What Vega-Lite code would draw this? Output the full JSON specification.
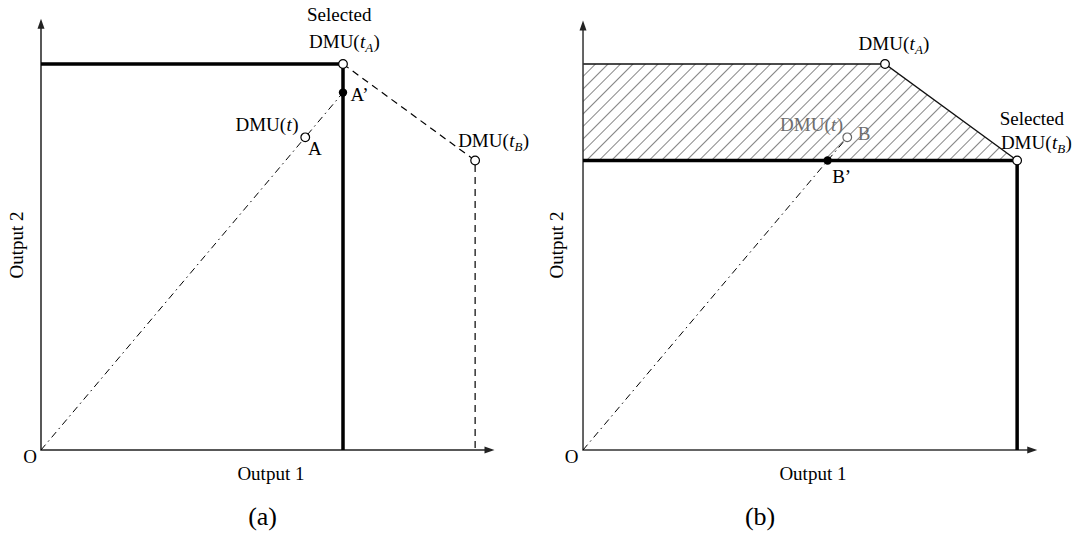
{
  "$schema": "https://vega.github.io/schema/vega-lite/v6.json",
  "background": "white",
  "padding": 0,
  "spacing": 0,
  "bounds": "flush",
  "config": {
    "view": {"stroke": null},
    "text": {"font": "Liberation Serif", "fontSize": 19, "color": "black"}
  },
  "datasets": {
    "axes": [
      {"panel": "a", "ord": 1, "x": 0, "y": 11.04},
      {"panel": "a", "ord": 2, "x": 0, "y": 0},
      {"panel": "a", "ord": 3, "x": 11.88, "y": 0},
      {"panel": "b", "ord": 1, "x": 0, "y": 11.0},
      {"panel": "b", "ord": 2, "x": 0, "y": 0},
      {"panel": "b", "ord": 3, "x": 11.9, "y": 0}
    ],
    "arrows": [
      {"panel": "a", "dir": "up", "x": 0, "y": 11.04},
      {"panel": "a", "dir": "right", "x": 11.88, "y": 0},
      {"panel": "b", "dir": "up", "x": 0, "y": 11.0},
      {"panel": "b", "dir": "right", "x": 11.9, "y": 0}
    ],
    "frontier": [
      {"panel": "a", "ord": 1, "x": 0, "y": 10},
      {"panel": "a", "ord": 2, "x": 8, "y": 10},
      {"panel": "a", "ord": 3, "x": 8, "y": 0},
      {"panel": "b", "ord": 1, "x": 0, "y": 7.5},
      {"panel": "b", "ord": 2, "x": 11.5, "y": 7.5},
      {"panel": "b", "ord": 3, "x": 11.5, "y": 0}
    ],
    "links": [
      {"panel": "a", "ord": 1, "x": 8, "y": 10},
      {"panel": "a", "ord": 2, "x": 11.5, "y": 7.5},
      {"panel": "a", "ord": 3, "x": 11.5, "y": 0}
    ],
    "rays": [
      {"panel": "a", "ord": 1, "x": 0, "y": 0},
      {"panel": "a", "ord": 2, "x": 8, "y": 9.26},
      {"panel": "b", "ord": 1, "x": 0, "y": 0},
      {"panel": "b", "ord": 2, "x": 7, "y": 8.1}
    ],
    "hull": [
      {"panel": "b", "ord": 1, "x": 0, "y": 10},
      {"panel": "b", "ord": 2, "x": 8, "y": 10},
      {"panel": "b", "ord": 3, "x": 11.5, "y": 7.5}
    ],
    "region": [
      {"panel": "b", "x": 0, "y": 10, "y2": 7.5},
      {"panel": "b", "x": 8, "y": 10, "y2": 7.5},
      {"panel": "b", "x": 11.5, "y": 7.5, "y2": 7.5}
    ],
    "dmus": [
      {"panel": "a", "name": "DMU(tA)", "state": "observed", "x": 8, "y": 10},
      {"panel": "a", "name": "DMU(tB)", "state": "observed", "x": 11.5, "y": 7.5},
      {"panel": "a", "name": "A", "state": "evaluated", "x": 7, "y": 8.1},
      {"panel": "a", "name": "A’", "state": "projection", "x": 8, "y": 9.26},
      {"panel": "b", "name": "DMU(tA)", "state": "observed", "x": 8, "y": 10},
      {"panel": "b", "name": "DMU(tB)", "state": "observed", "x": 11.5, "y": 7.5},
      {"panel": "b", "name": "B", "state": "evaluated", "x": 7, "y": 8.1},
      {"panel": "b", "name": "B’", "state": "projection", "x": 6.48, "y": 7.5}
    ],
    "dmu_labels": [
      {"panel": "a", "sub": "A", "x": 7.1, "y": 10.415},
      {"panel": "a", "sub": "B", "x": 11.05, "y": 7.85},
      {"panel": "a", "sub": "", "x": 5.15, "y": 8.264},
      {"panel": "b", "sub": "A", "x": 7.3, "y": 10.36},
      {"panel": "b", "sub": "B", "x": 11.07, "y": 7.8},
      {"panel": "b", "sub": "", "x": 5.22, "y": 8.264}
    ],
    "texts": [
      {"panel": "a", "role": "note", "text": "Selected", "x": 7.9, "y": 11.11},
      {"panel": "a", "role": "point", "text": "A’", "x": 8.2, "y": 9.04},
      {"panel": "a", "role": "point", "text": "A", "x": 7.07, "y": 7.64},
      {"panel": "a", "role": "origin", "text": "O", "x": -0.29, "y": -0.337},
      {"panel": "a", "role": "xtitle", "text": "Output 1", "x": 6.09, "y": -0.777},
      {"panel": "a", "role": "ytitle", "text": "Output 2", "x": -0.636, "y": 5.31},
      {"panel": "a", "role": "caption", "text": "(a)", "x": 5.87, "y": -1.943},
      {"panel": "b", "role": "note", "text": "Selected", "x": 11.89, "y": 8.42},
      {"panel": "b", "role": "evaluated", "text": "B", "x": 7.28, "y": 8.03},
      {"panel": "b", "role": "point", "text": "B’", "x": 6.6, "y": 6.92},
      {"panel": "b", "role": "origin", "text": "O", "x": -0.3, "y": -0.337},
      {"panel": "b", "role": "xtitle", "text": "Output 1", "x": 6.09, "y": -0.777},
      {"panel": "b", "role": "ytitle", "text": "Output 2", "x": -0.689, "y": 5.31},
      {"panel": "b", "role": "caption", "text": "(b)", "x": 4.69, "y": -1.943}
    ]
  },
  "hconcat": [
    {
      "width": 537,
      "height": 536,
      "encoding": {
        "x": {"field": "x", "type": "quantitative", "scale": {"domain": [-1.086, 13.139], "nice": false, "zero": false}, "axis": null},
        "y": {"field": "y", "type": "quantitative", "scale": {"domain": [-2.228, 11.658], "nice": false, "zero": false}, "axis": null}
      },
      "layer": [
        {"data": {"name": "axes"}, "transform": [{"filter": "datum.panel === 'a'"}],
         "mark": {"type": "line", "stroke": "#222", "strokeWidth": 1.5},
         "encoding": {"order": {"field": "ord", "type": "quantitative"}}},
        {"data": {"name": "arrows"}, "transform": [{"filter": "datum.panel === 'a'"}],
         "mark": {"type": "point", "filled": true, "fill": "#222", "size": 100, "opacity": 1},
         "encoding": {"shape": {"field": "dir", "type": "nominal", "legend": null,
           "scale": {"domain": ["up", "right"], "range": ["M0,-1L0.7,1L-0.7,1Z", "M1,0L-1,0.7L-1,-0.7Z"]}}}},
        {"data": {"name": "rays"}, "transform": [{"filter": "datum.panel === 'a'"}],
         "mark": {"type": "line", "stroke": "black", "strokeWidth": 1, "strokeDash": [7, 4, 1.5, 4]},
         "encoding": {"order": {"field": "ord", "type": "quantitative"}}},
        {"data": {"name": "links"}, "transform": [{"filter": "datum.panel === 'a'"}],
         "mark": {"type": "line", "stroke": "black", "strokeWidth": 1.2, "strokeDash": [7, 5]},
         "encoding": {"order": {"field": "ord", "type": "quantitative"}}},
        {"data": {"name": "frontier"}, "transform": [{"filter": "datum.panel === 'a'"}],
         "mark": {"type": "line", "stroke": "black", "strokeWidth": 3.5},
         "encoding": {"order": {"field": "ord", "type": "quantitative"}}},
        {"data": {"name": "dmus"}, "transform": [{"filter": "datum.panel === 'a' && datum.state !== 'projection'"}],
         "mark": {"type": "point", "shape": "circle", "size": 75, "filled": true, "fill": "white", "stroke": "black", "strokeWidth": 1.2, "opacity": 1}},
        {"data": {"name": "dmus"}, "transform": [{"filter": "datum.panel === 'a' && datum.state === 'projection'"}],
         "mark": {"type": "point", "shape": "circle", "size": 70, "filled": true, "fill": "black", "opacity": 1}},
        {"data": {"name": "dmu_labels"}, "transform": [{"filter": "datum.panel === 'a'"}],
         "mark": {"type": "text", "text": "DMU(", "align": "left", "baseline": "alphabetic"}},
        {"data": {"name": "dmu_labels"}, "transform": [{"filter": "datum.panel === 'a'"}],
         "mark": {"type": "text", "text": "t", "fontStyle": "italic", "align": "left", "baseline": "alphabetic", "dx": 51}},
        {"data": {"name": "dmu_labels"}, "transform": [{"filter": "datum.panel === 'a' && datum.sub !== ''"}],
         "mark": {"type": "text", "fontStyle": "italic", "fontSize": 13, "align": "left", "baseline": "alphabetic", "dx": 56.3, "dy": 4},
         "encoding": {"text": {"field": "sub"}}},
        {"data": {"name": "dmu_labels"}, "transform": [{"filter": "datum.panel === 'a' && datum.sub !== ''"}],
         "mark": {"type": "text", "text": ")", "align": "left", "baseline": "alphabetic", "dx": 64.5}},
        {"data": {"name": "dmu_labels"}, "transform": [{"filter": "datum.panel === 'a' && datum.sub === ''"}],
         "mark": {"type": "text", "text": ")", "align": "left", "baseline": "alphabetic", "dx": 56.8}},
        {"data": {"name": "texts"}, "transform": [{"filter": "datum.panel === 'a' && (datum.role === 'note' || datum.role === 'origin' || datum.role === 'xtitle')"}],
         "mark": {"type": "text", "align": "center", "baseline": "alphabetic"},
         "encoding": {"text": {"field": "text"}}},
        {"data": {"name": "texts"}, "transform": [{"filter": "datum.panel === 'a' && datum.role === 'point'"}],
         "mark": {"type": "text", "align": "left", "baseline": "alphabetic"},
         "encoding": {"text": {"field": "text"}}},
        {"data": {"name": "texts"}, "transform": [{"filter": "datum.panel === 'a' && datum.role === 'ytitle'"}],
         "mark": {"type": "text", "align": "center", "baseline": "middle", "angle": 270},
         "encoding": {"text": {"field": "text"}}},
        {"data": {"name": "texts"}, "transform": [{"filter": "datum.panel === 'a' && datum.role === 'caption'"}],
         "mark": {"type": "text", "align": "center", "baseline": "alphabetic", "fontSize": 26},
         "encoding": {"text": {"field": "text"}}}
      ]
    },
    {
      "width": 538,
      "height": 536,
      "encoding": {
        "x": {"field": "x", "type": "quantitative", "scale": {"domain": [-1.219, 13.033], "nice": false, "zero": false}, "axis": null},
        "y": {"field": "y", "type": "quantitative", "scale": {"domain": [-2.228, 11.658], "nice": false, "zero": false}, "axis": null}
      },
      "layer": [
        {"data": {"name": "region"},
         "mark": {"type": "area", "opacity": 1, "stroke": null,
           "fill": {"gradient": "linear", "x1": 0, "y1": 0, "x2": 1.2073, "y2": 0.2684, "stops": [
             {"offset": 0, "color": "#fff"},
             {"offset": 0.0200, "color": "#fff"}, {"offset": 0.0227, "color": "#8a8a8a"}, {"offset": 0.0254, "color": "#fff"},
             {"offset": 0.0428, "color": "#fff"}, {"offset": 0.0455, "color": "#8a8a8a"}, {"offset": 0.0482, "color": "#fff"},
             {"offset": 0.0655, "color": "#fff"}, {"offset": 0.0682, "color": "#8a8a8a"}, {"offset": 0.0709, "color": "#fff"},
             {"offset": 0.0882, "color": "#fff"}, {"offset": 0.0909, "color": "#8a8a8a"}, {"offset": 0.0936, "color": "#fff"},
             {"offset": 0.1109, "color": "#fff"}, {"offset": 0.1136, "color": "#8a8a8a"}, {"offset": 0.1163, "color": "#fff"},
             {"offset": 0.1337, "color": "#fff"}, {"offset": 0.1364, "color": "#8a8a8a"}, {"offset": 0.1391, "color": "#fff"},
             {"offset": 0.1564, "color": "#fff"}, {"offset": 0.1591, "color": "#8a8a8a"}, {"offset": 0.1618, "color": "#fff"},
             {"offset": 0.1791, "color": "#fff"}, {"offset": 0.1818, "color": "#8a8a8a"}, {"offset": 0.1845, "color": "#fff"},
             {"offset": 0.2018, "color": "#fff"}, {"offset": 0.2045, "color": "#8a8a8a"}, {"offset": 0.2072, "color": "#fff"},
             {"offset": 0.2246, "color": "#fff"}, {"offset": 0.2273, "color": "#8a8a8a"}, {"offset": 0.2300, "color": "#fff"},
             {"offset": 0.2473, "color": "#fff"}, {"offset": 0.2500, "color": "#8a8a8a"}, {"offset": 0.2527, "color": "#fff"},
             {"offset": 0.2700, "color": "#fff"}, {"offset": 0.2727, "color": "#8a8a8a"}, {"offset": 0.2754, "color": "#fff"},
             {"offset": 0.2928, "color": "#fff"}, {"offset": 0.2955, "color": "#8a8a8a"}, {"offset": 0.2982, "color": "#fff"},
             {"offset": 0.3155, "color": "#fff"}, {"offset": 0.3182, "color": "#8a8a8a"}, {"offset": 0.3209, "color": "#fff"},
             {"offset": 0.3382, "color": "#fff"}, {"offset": 0.3409, "color": "#8a8a8a"}, {"offset": 0.3436, "color": "#fff"},
             {"offset": 0.3609, "color": "#fff"}, {"offset": 0.3636, "color": "#8a8a8a"}, {"offset": 0.3663, "color": "#fff"},
             {"offset": 0.3837, "color": "#fff"}, {"offset": 0.3864, "color": "#8a8a8a"}, {"offset": 0.3891, "color": "#fff"},
             {"offset": 0.4064, "color": "#fff"}, {"offset": 0.4091, "color": "#8a8a8a"}, {"offset": 0.4118, "color": "#fff"},
             {"offset": 0.4291, "color": "#fff"}, {"offset": 0.4318, "color": "#8a8a8a"}, {"offset": 0.4345, "color": "#fff"},
             {"offset": 0.4518, "color": "#fff"}, {"offset": 0.4545, "color": "#8a8a8a"}, {"offset": 0.4572, "color": "#fff"},
             {"offset": 0.4746, "color": "#fff"}, {"offset": 0.4773, "color": "#8a8a8a"}, {"offset": 0.4800, "color": "#fff"},
             {"offset": 0.4973, "color": "#fff"}, {"offset": 0.5000, "color": "#8a8a8a"}, {"offset": 0.5027, "color": "#fff"},
             {"offset": 0.5200, "color": "#fff"}, {"offset": 0.5227, "color": "#8a8a8a"}, {"offset": 0.5254, "color": "#fff"},
             {"offset": 0.5428, "color": "#fff"}, {"offset": 0.5455, "color": "#8a8a8a"}, {"offset": 0.5482, "color": "#fff"},
             {"offset": 0.5655, "color": "#fff"}, {"offset": 0.5682, "color": "#8a8a8a"}, {"offset": 0.5709, "color": "#fff"},
             {"offset": 0.5882, "color": "#fff"}, {"offset": 0.5909, "color": "#8a8a8a"}, {"offset": 0.5936, "color": "#fff"},
             {"offset": 0.6109, "color": "#fff"}, {"offset": 0.6136, "color": "#8a8a8a"}, {"offset": 0.6163, "color": "#fff"},
             {"offset": 0.6337, "color": "#fff"}, {"offset": 0.6364, "color": "#8a8a8a"}, {"offset": 0.6391, "color": "#fff"},
             {"offset": 0.6564, "color": "#fff"}, {"offset": 0.6591, "color": "#8a8a8a"}, {"offset": 0.6618, "color": "#fff"},
             {"offset": 0.6791, "color": "#fff"}, {"offset": 0.6818, "color": "#8a8a8a"}, {"offset": 0.6845, "color": "#fff"},
             {"offset": 0.7018, "color": "#fff"}, {"offset": 0.7045, "color": "#8a8a8a"}, {"offset": 0.7072, "color": "#fff"},
             {"offset": 0.7246, "color": "#fff"}, {"offset": 0.7273, "color": "#8a8a8a"}, {"offset": 0.7300, "color": "#fff"},
             {"offset": 0.7473, "color": "#fff"}, {"offset": 0.7500, "color": "#8a8a8a"}, {"offset": 0.7527, "color": "#fff"},
             {"offset": 0.7700, "color": "#fff"}, {"offset": 0.7727, "color": "#8a8a8a"}, {"offset": 0.7754, "color": "#fff"},
             {"offset": 0.7928, "color": "#fff"}, {"offset": 0.7955, "color": "#8a8a8a"}, {"offset": 0.7982, "color": "#fff"},
             {"offset": 0.8155, "color": "#fff"}, {"offset": 0.8182, "color": "#8a8a8a"}, {"offset": 0.8209, "color": "#fff"},
             {"offset": 0.8382, "color": "#fff"}, {"offset": 0.8409, "color": "#8a8a8a"}, {"offset": 0.8436, "color": "#fff"},
             {"offset": 0.8609, "color": "#fff"}, {"offset": 0.8636, "color": "#8a8a8a"}, {"offset": 0.8663, "color": "#fff"},
             {"offset": 0.8837, "color": "#fff"}, {"offset": 0.8864, "color": "#8a8a8a"}, {"offset": 0.8891, "color": "#fff"},
             {"offset": 0.9064, "color": "#fff"}, {"offset": 0.9091, "color": "#8a8a8a"}, {"offset": 0.9118, "color": "#fff"},
             {"offset": 0.9291, "color": "#fff"}, {"offset": 0.9318, "color": "#8a8a8a"}, {"offset": 0.9345, "color": "#fff"},
             {"offset": 0.9518, "color": "#fff"}, {"offset": 0.9545, "color": "#8a8a8a"}, {"offset": 0.9572, "color": "#fff"},
             {"offset": 0.9746, "color": "#fff"}, {"offset": 0.9773, "color": "#8a8a8a"}, {"offset": 0.9800, "color": "#fff"},
             {"offset": 1, "color": "#fff"}
           ]}},
         "encoding": {"y2": {"field": "y2"}}},
        {"data": {"name": "hull"}, "transform": [{"filter": "datum.panel === 'b'"}],
         "mark": {"type": "line", "stroke": "#111", "strokeWidth": 1.4},
         "encoding": {"order": {"field": "ord", "type": "quantitative"}}},
        {"data": {"name": "axes"}, "transform": [{"filter": "datum.panel === 'b'"}],
         "mark": {"type": "line", "stroke": "#333", "strokeWidth": 1.5},
         "encoding": {"order": {"field": "ord", "type": "quantitative"}}},
        {"data": {"name": "arrows"}, "transform": [{"filter": "datum.panel === 'b'"}],
         "mark": {"type": "point", "filled": true, "fill": "#222", "size": 100, "opacity": 1},
         "encoding": {"shape": {"field": "dir", "type": "nominal", "legend": null,
           "scale": {"domain": ["up", "right"], "range": ["M0,-1L0.7,1L-0.7,1Z", "M1,0L-1,0.7L-1,-0.7Z"]}}}},
        {"data": {"name": "rays"}, "transform": [{"filter": "datum.panel === 'b'"}],
         "mark": {"type": "line", "stroke": "black", "strokeWidth": 1, "strokeDash": [7, 4, 1.5, 4]},
         "encoding": {"order": {"field": "ord", "type": "quantitative"}}},
        {"data": {"name": "frontier"}, "transform": [{"filter": "datum.panel === 'b'"}],
         "mark": {"type": "line", "stroke": "black", "strokeWidth": 3.5},
         "encoding": {"order": {"field": "ord", "type": "quantitative"}}},
        {"data": {"name": "dmus"}, "transform": [{"filter": "datum.panel === 'b' && datum.state === 'observed'"}],
         "mark": {"type": "point", "shape": "circle", "size": 75, "filled": true, "fill": "white", "stroke": "black", "strokeWidth": 1.2, "opacity": 1}},
        {"data": {"name": "dmus"}, "transform": [{"filter": "datum.panel === 'b' && datum.state === 'evaluated'"}],
         "mark": {"type": "point", "shape": "circle", "size": 75, "filled": true, "fill": "white", "stroke": "#666", "strokeWidth": 1.2, "opacity": 1}},
        {"data": {"name": "dmus"}, "transform": [{"filter": "datum.panel === 'b' && datum.state === 'projection'"}],
         "mark": {"type": "point", "shape": "circle", "size": 70, "filled": true, "fill": "black", "opacity": 1}},
        {"data": {"name": "dmu_labels"}, "transform": [{"filter": "datum.panel === 'b' && datum.sub !== ''"}],
         "mark": {"type": "text", "text": "DMU(", "align": "left", "baseline": "alphabetic"}},
        {"data": {"name": "dmu_labels"}, "transform": [{"filter": "datum.panel === 'b' && datum.sub !== ''"}],
         "mark": {"type": "text", "text": "t", "fontStyle": "italic", "align": "left", "baseline": "alphabetic", "dx": 51}},
        {"data": {"name": "dmu_labels"}, "transform": [{"filter": "datum.panel === 'b' && datum.sub !== ''"}],
         "mark": {"type": "text", "fontStyle": "italic", "fontSize": 13, "align": "left", "baseline": "alphabetic", "dx": 56.3, "dy": 4},
         "encoding": {"text": {"field": "sub"}}},
        {"data": {"name": "dmu_labels"}, "transform": [{"filter": "datum.panel === 'b' && datum.sub !== ''"}],
         "mark": {"type": "text", "text": ")", "align": "left", "baseline": "alphabetic", "dx": 64.5}},
        {"data": {"name": "dmu_labels"}, "transform": [{"filter": "datum.panel === 'b' && datum.sub === ''"}],
         "mark": {"type": "text", "text": "DMU(", "align": "left", "baseline": "alphabetic", "color": "#6e6e6e"}},
        {"data": {"name": "dmu_labels"}, "transform": [{"filter": "datum.panel === 'b' && datum.sub === ''"}],
         "mark": {"type": "text", "text": "t", "fontStyle": "italic", "align": "left", "baseline": "alphabetic", "dx": 51, "color": "#6e6e6e"}},
        {"data": {"name": "dmu_labels"}, "transform": [{"filter": "datum.panel === 'b' && datum.sub === ''"}],
         "mark": {"type": "text", "text": ")", "align": "left", "baseline": "alphabetic", "dx": 56.8, "color": "#6e6e6e"}},
        {"data": {"name": "texts"}, "transform": [{"filter": "datum.panel === 'b' && (datum.role === 'note' || datum.role === 'origin' || datum.role === 'xtitle')"}],
         "mark": {"type": "text", "align": "center", "baseline": "alphabetic"},
         "encoding": {"text": {"field": "text"}}},
        {"data": {"name": "texts"}, "transform": [{"filter": "datum.panel === 'b' && datum.role === 'point'"}],
         "mark": {"type": "text", "align": "left", "baseline": "alphabetic"},
         "encoding": {"text": {"field": "text"}}},
        {"data": {"name": "texts"}, "transform": [{"filter": "datum.panel === 'b' && datum.role === 'evaluated'"}],
         "mark": {"type": "text", "align": "left", "baseline": "alphabetic", "color": "#6e6e6e"},
         "encoding": {"text": {"field": "text"}}},
        {"data": {"name": "texts"}, "transform": [{"filter": "datum.panel === 'b' && datum.role === 'ytitle'"}],
         "mark": {"type": "text", "align": "center", "baseline": "middle", "angle": 270},
         "encoding": {"text": {"field": "text"}}},
        {"data": {"name": "texts"}, "transform": [{"filter": "datum.panel === 'b' && datum.role === 'caption'"}],
         "mark": {"type": "text", "align": "center", "baseline": "alphabetic", "fontSize": 26},
         "encoding": {"text": {"field": "text"}}}
      ]
    }
  ]
}
